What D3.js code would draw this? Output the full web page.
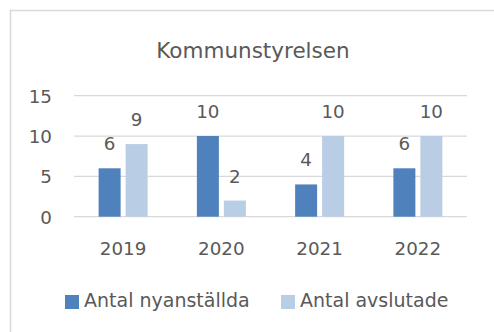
<!DOCTYPE html>
<html>
<head>
<meta charset="utf-8">
<script src="https://cdn.jsdelivr.net/npm/d3@7"></script>
<style>
  html, body { margin: 0; padding: 0; background: #fff; }
  svg { display: block; }
  text { font-family: "DejaVu Sans", sans-serif; fill: #595959; }
</style>
</head>
<body>
<svg id="chart" width="494" height="332"></svg>
<script>
// Chart data
const title = "Kommunstyrelsen";
const years = ["2019", "2020", "2021", "2022"];
const seriesNames = ["Antal nyanställda", "Antal avslutade"];
const nyanstallda = [6, 10, 4, 6];
const avslutade = [9, 2, 10, 10];
const yTicks = [0, 5, 10, 15];

const colors = ["#4F81BD", "#B9CDE5"];
const seriesValues = [nyanstallda, avslutade];
const font = "DejaVu Sans, sans-serif";

const svg = d3.select("#chart");

// Outer frame
svg.append("rect")
  .attr("x", 10.5).attr("y", 10.5)
  .attr("width", 520).attr("height", 360)
  .attr("fill", "#fff")
  .attr("stroke", "#D9D9D9")
  .attr("stroke-width", 1.5);

const plot = { left: 74, right: 467, top: 95.7, bottom: 216.7 };

const x0 = d3.scaleBand().domain(years).range([plot.left, plot.right]);
const groupW = 49;
const x1 = d3.scaleBand()
  .domain(seriesNames)
  .range([x0.bandwidth() / 2 - groupW / 2, x0.bandwidth() / 2 + groupW / 2])
  .paddingInner(0.185);
const y = d3.scaleLinear().domain([0, 15]).range([plot.bottom, plot.top]);

// Title
svg.append("text")
  .attr("x", 253).attr("y", 58)
  .attr("text-anchor", "middle")
  .attr("font-size", 21.5)
  .text(title);

// Gridlines
svg.append("g")
  .selectAll("line")
  .data(yTicks)
  .join("line")
  .attr("x1", plot.left).attr("x2", plot.right)
  .attr("y1", d => y(d)).attr("y2", d => y(d))
  .attr("stroke", "#D9D9D9")
  .attr("stroke-width", 1.3);

// Y tick labels
const yAxis = d3.axisLeft(y).tickValues(yTicks).tickSize(0).tickPadding(0);
const gy = svg.append("g").attr("transform", "translate(52,0)").call(yAxis);
gy.select(".domain").remove();
gy.selectAll("text")
  .attr("font-size", 18.3)
  .attr("font-family", font)
  .attr("fill", "#595959")
  .attr("dy", "0.36em");

// X tick labels
const gx = svg.append("g")
  .attr("transform", `translate(0,${plot.bottom})`)
  .call(d3.axisBottom(x0).tickSize(0).tickPadding(0));
gx.select(".domain").remove();
gx.selectAll("text")
  .attr("font-size", 18.3)
  .attr("font-family", font)
  .attr("fill", "#595959")
  .attr("y", 38.5)
  .attr("dy", 0);

// Bars and value labels
const groups = svg.append("g")
  .selectAll("g")
  .data(years)
  .join("g")
  .attr("transform", d => `translate(${x0(d)},0)`);

const cells = groups.selectAll("g")
  .data((d, i) => seriesNames.map((s, j) => ({ series: s, value: seriesValues[j][i], idx: j })))
  .join("g");

cells.append("rect")
  .attr("x", d => x1(d.series))
  .attr("width", x1.bandwidth())
  .attr("y", d => y(d.value))
  .attr("height", d => y(0) - y(d.value))
  .attr("fill", d => colors[d.idx]);

cells.append("text")
  .attr("x", d => x1(d.series) + x1.bandwidth() / 2)
  .attr("y", d => y(d.value) - 18)
  .attr("text-anchor", "middle")
  .attr("font-size", 18.3)
  .text(d => d.value);

// Legend
const legendItems = [
  { name: seriesNames[0], color: colors[0], x: 65 },
  { name: seriesNames[1], color: colors[1], x: 281 }
];
const legend = svg.append("g").selectAll("g").data(legendItems).join("g")
  .attr("transform", d => `translate(${d.x},295)`);
legend.append("rect")
  .attr("width", 14).attr("height", 14)
  .attr("fill", d => d.color);
legend.append("text")
  .attr("x", 19).attr("y", 12)
  .attr("font-size", 19)
  .text(d => d.name);
</script>
</body>
</html>
